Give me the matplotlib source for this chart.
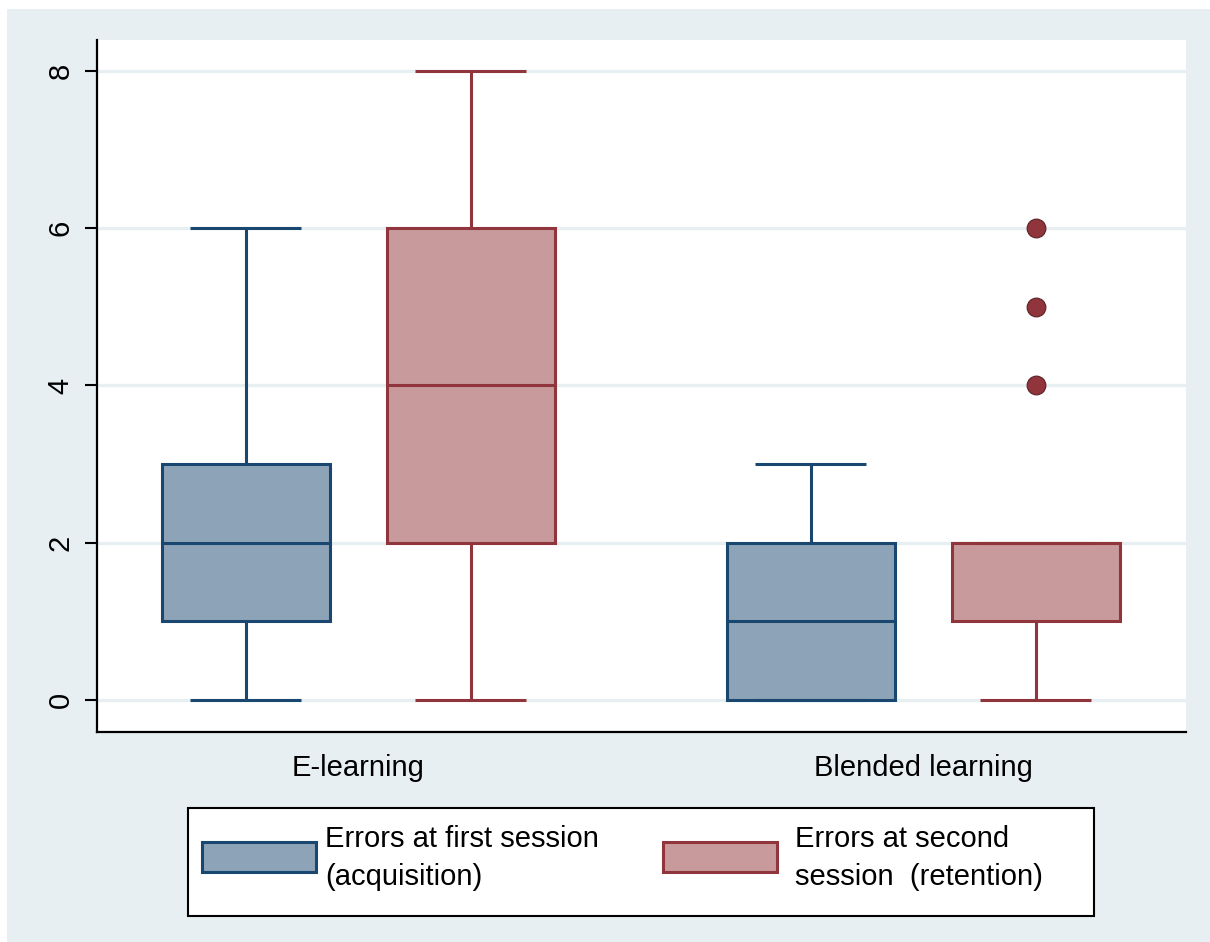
import matplotlib.pyplot as plt
from matplotlib.patches import Rectangle

plt.rcParams['font.family'] = ['Liberation Sans', 'DejaVu Sans']

# five-number summaries per group and session
groups = ['E-learning', 'Blended learning']
sessions = ['Errors at first session\n(acquisition)', 'Errors at second\nsession  (retention)']
whislo = [0, 0, 0, 0]
q1 = [1, 2, 0, 1]
med = [2, 4, 1, 2]
q3 = [3, 6, 2, 2]
whishi = [6, 8, 3, 2]
fliers = [[], [], [], [4, 5, 6]]

fill_cols = ['#8DA3B7', '#C89A9C']
edge_cols = ['#1A476F', '#90353B']
bg = '#E8EFF2'

positions = [0, 1, 2.51, 3.51]

W, H = 1210, 942
fig = plt.figure(figsize=(W / 100, H / 100), dpi=100, facecolor='white')


def px_rect(x0, y0, x1, y1, **kw):
    # rectangle given in pixel coords measured from the top-left corner
    return Rectangle((x0 / W, 1 - y1 / H), (x1 - x0) / W, (y1 - y0) / H,
                     transform=fig.transFigure, **kw)


fig.patches.append(px_rect(7, 9, W, H, facecolor=bg, edgecolor='none', zorder=-10))
ax = fig.add_axes([97 / W, 1 - 732 / H, (1186 - 97) / W, (732 - 40) / H])
ax.set_facecolor('white')

for i in range(4):
    s = i % 2
    st = dict(med=med[i], q1=q1[i], q3=q3[i], whislo=whislo[i], whishi=whishi[i], fliers=fliers[i])
    lp = dict(color=edge_cols[s], linewidth=2.2, solid_capstyle='butt')
    ax.bxp([st], positions=[positions[i]], widths=0.747, capwidths=0.493,
           patch_artist=True, showfliers=True,
           boxprops=dict(facecolor=fill_cols[s], edgecolor=edge_cols[s], linewidth=2.2),
           medianprops=lp, whiskerprops=lp, capprops=lp,
           flierprops=dict(marker='o', markersize=13.5, markerfacecolor=edge_cols[s],
                           markeredgecolor='#5a2025', markeredgewidth=0.8),
           zorder=3)

ax.set_xlim(-0.662, 4.178)
ax.set_ylim(-0.407, 8.394)
ax.set_yticks([0, 2, 4, 6, 8])
ax.set_yticklabels(['0', '2', '4', '6', '8'], rotation=90, va='center', fontsize=21)
ax.yaxis.grid(True, color=bg, linewidth=2.4)
ax.set_axisbelow(True)
ax.tick_params(axis='y', length=9, width=1.5, pad=7)

ax.set_xticks([(positions[0] + positions[1]) / 2, (positions[2] + positions[3]) / 2])
ax.set_xticklabels(groups, fontsize=21)
ax.tick_params(axis='x', length=0, pad=16)

for side in ['top', 'right']:
    ax.spines[side].set_visible(False)
for side in ['left', 'bottom']:
    ax.spines[side].set_linewidth(1.6)

# legend box drawn by hand
fig.patches.append(px_rect(188, 808, 1094, 916, facecolor='white', edgecolor='black',
                           linewidth=1.5, zorder=5))
key_x = [(202, 316), (663, 777)]
text_x = [325, 795]
for k in range(2):
    fig.patches.append(px_rect(key_x[k][0], 842, key_x[k][1], 872, facecolor=fill_cols[k],
                               edgecolor=edge_cols[k], linewidth=2.2, zorder=6))
    fig.text(text_x[k] / W, 1 - 858 / H, sessions[k], fontsize=21, va='center', ha='left',
             linespacing=1.42, zorder=6)

fig.savefig('out.png', dpi=100, facecolor=fig.get_facecolor())
